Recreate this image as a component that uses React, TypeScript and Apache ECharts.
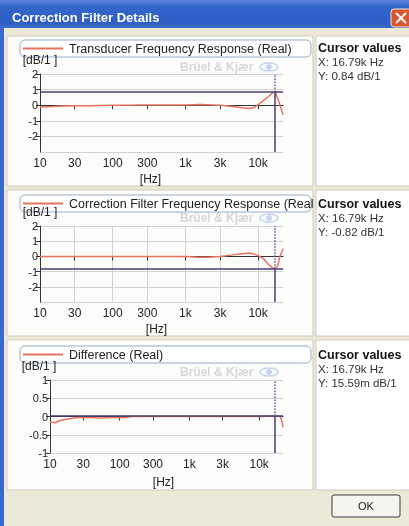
import React, { useEffect, useRef } from "react";
import * as echarts from "echarts";

// ---------- data ----------
const xTickValues = [10, 30, 100, 300, 1000, 3000, 10000];

const transducerFreq = [10, 12, 15, 20, 30, 50, 100, 200, 300, 500, 1000, 1600, 3000, 4500, 6000, 7700, 9000, 11200, 13800, 15900, 16790, 17600, 19000, 20500, 21800, 22000];
const transducerVal = [-0.12, -0.1, -0.08, -0.05, -0.04, -0.03, 0.0, 0.01, 0.02, 0.02, 0.02, 0.04, 0.0, -0.08, -0.17, -0.21, -0.13, 0.21, 0.54, 0.8, 0.84, 0.74, 0.33, -0.15, -0.54, -0.62];

const correctionFreq = [10, 100, 1000, 1500, 2000, 3000, 4500, 6000, 7700, 9500, 11900, 13700, 15500, 16790, 18500, 20000, 21700, 22000];
const correctionVal = [0, 0, 0, -0.05, -0.05, 0, 0.1, 0.18, 0.22, 0.1, -0.15, -0.5, -0.72, -0.82, -0.65, 0, 0.42, 0.5];

const differenceFreq = [10, 11.8, 13.9, 19.4, 27, 40, 52, 80, 117, 150, 300, 1000, 3000, 10000, 16790, 20000, 21000, 22000];
const differenceVal = [-0.15, -0.17, -0.11, -0.055, -0.02, -0.03, -0.04, -0.03, -0.03, 0, 0, 0, 0, 0, 0.0156, 0, -0.1, -0.3];

const seriesNames = [
  "Transducer Frequency Response (Real)",
  "Correction Filter Frequency Response (Real)",
  "Difference (Real)",
];
const legendShown = [
  "Transducer Frequency Response (Real)",
  "Correction Filter Frequency Response (Real",
  "Difference (Real)",
];
const cursorX = [16790, 16790, 16790];
const cursorY = [0.84, -0.82, 0.01559];
const cursorXText = ["X: 16.79k Hz", "X: 16.79k Hz", "X: 16.79k Hz"];
const cursorYText = ["Y: 0.84 dB/1", "Y: -0.82 dB/1", "Y: 15.59m dB/1"];

// ---------- layout ----------
const FONT = "'Liberation Sans', Arial, sans-serif";
const CURVE = "#E8735C";
const CURSOR = "#4a3d74";
const GRIDC = "#d2d2d2";

const grids = [
  { left: 40, top: 74, width: 243, height: 78 },
  { left: 40, top: 226, width: 243, height: 76 },
  { left: 50, top: 380, width: 233, height: 73 },
];
const yRanges = [
  { min: -3, max: 2, interval: 1 },
  { min: -3, max: 2, interval: 1 },
  { min: -1, max: 1, interval: 0.5 },
];
const panelTops = [36, 190, 340];
const panelHeights = [150, 146, 150];
const legendBoxTops = [40, 195, 346];
const cursorTextTops = [48, 204, 355];
const bkY = [67, 218, 372];
const vGrid = [false, true, false];
const hzPad = [22, 10, 6];
const dbPad = [0, 0, 22];

function fmtHz(v: number) {
  return v >= 1000 ? v / 1000 + "k" : String(v);
}

function buildOption() {
  const data = [
    transducerFreq.map((f, i) => [f, transducerVal[i]]),
    correctionFreq.map((f, i) => [f, correctionVal[i]]),
    differenceFreq.map((f, i) => [f, differenceVal[i]]),
  ];

  const graphics: any[] = [
    { type: "rect", shape: { x: 0, y: 0, width: 409, height: 526 }, style: { fill: "#ECE9D8" }, z: -20 },
    {
      type: "rect",
      shape: { x: 0, y: 0, width: 409, height: 28 },
      style: {
        fill: new echarts.graphic.LinearGradient(0, 0, 0, 1, [
          { offset: 0, color: "#5a86dc" },
          { offset: 0.25, color: "#3465c9" },
          { offset: 0.8, color: "#2e5ec4" },
          { offset: 1, color: "#3e6bc8" },
        ]),
      },
      z: -19,
    },
    { type: "rect", shape: { x: 0, y: 28, width: 4, height: 498 }, style: { fill: "#3a68cc" }, z: -19 },
    {
      type: "text",
      style: { text: "Correction Filter Details", x: 12, y: 17, fill: "#ffffff", font: `bold 13px ${FONT}`, verticalAlign: "middle" },
      z: 10,
    },
    { type: "rect", shape: { x: 391, y: 9, width: 22, height: 18, r: 3 }, style: { fill: "#d9572f", stroke: "#f0e0d8", lineWidth: 1 }, z: 10 },
    { type: "line", shape: { x1: 396, y1: 13, x2: 406, y2: 23 }, style: { stroke: "#fff", lineWidth: 2 }, z: 11 },
    { type: "line", shape: { x1: 406, y1: 13, x2: 396, y2: 23 }, style: { stroke: "#fff", lineWidth: 2 }, z: 11 },
    // OK button
    { type: "rect", shape: { x: 332, y: 495, width: 68, height: 22, r: 2 }, style: { fill: "#f5f4ef", stroke: "#3a3a3a", lineWidth: 1 }, z: 10 },
    { type: "text", style: { text: "OK", x: 366, y: 506, align: "center", verticalAlign: "middle", fill: "#222", font: `11px ${FONT}` }, z: 11 },
  ];

  for (let i = 0; i < 3; i++) {
    graphics.push(
      { type: "rect", shape: { x: 7, y: panelTops[i], width: 306, height: panelHeights[i] }, style: { fill: "#fcfcfa", stroke: "#cfcbbb", lineWidth: 1 }, z: -10 },
      { type: "rect", shape: { x: 316, y: panelTops[i], width: 96, height: panelHeights[i] }, style: { fill: "#ffffff", stroke: "#cfcbbb", lineWidth: 1 }, z: -10 },
      { type: "rect", shape: { x: 20, y: legendBoxTops[i], width: 291, height: 17, r: 5 }, style: { fill: "#ffffff", stroke: "#98acc8", lineWidth: 1 }, z: -5 },
      { type: "text", style: { text: "Cursor values", x: 318, y: cursorTextTops[i], fill: "#111", font: `bold 12.5px ${FONT}`, verticalAlign: "middle" }, z: 10 },
      { type: "text", style: { text: cursorXText[i], x: 318, y: cursorTextTops[i] + 14, fill: "#333", font: `11.5px ${FONT}`, verticalAlign: "middle" }, z: 10 },
      { type: "text", style: { text: cursorYText[i], x: 318, y: cursorTextTops[i] + 28, fill: "#333", font: `11.5px ${FONT}`, verticalAlign: "middle" }, z: 10 },
      { type: "text", style: { text: "Brüel & Kjær", x: 180, y: bkY[i], fill: "#d6d6de", font: `bold 12px ${FONT}`, verticalAlign: "middle" }, z: 1 },
      { type: "ellipse", shape: { cx: 269, cy: bkY[i], rx: 9, ry: 4 }, style: { fill: "none", stroke: "#c4d4ee", lineWidth: 1.5 }, z: 1 },
      { type: "circle", shape: { cx: 269, cy: bkY[i], r: 3 }, style: { fill: "#c4d4ee" }, z: 1 }
    );
  }

  const xAxes = grids.map((_, i) => ({
    type: "log",
    logBase: 10,
    gridIndex: i,
    min: 10,
    max: 22000,
    name: "[Hz]",
    nameLocation: "middle",
    nameGap: i === 2 ? 23 : 21,
    nameTextStyle: { color: "#222", fontSize: 12, fontFamily: FONT, padding: [0, hzPad[i], 0, 0] },
    axisLine: { show: true, lineStyle: { color: "#333", width: 1 } },
    axisTick: { show: true, length: 4, customValues: xTickValues, lineStyle: { color: "#333" } },
    axisLabel: { customValues: xTickValues, formatter: (v: number) => fmtHz(v), color: "#222", fontSize: 12, fontFamily: FONT, margin: 5 },
    splitLine: { show: vGrid[i], lineStyle: { color: GRIDC, width: 1 } },
    minorTick: { show: false },
    minorSplitLine: { show: false },
  }));

  const yAxes = grids.map((_, i) => ({
    type: "value",
    gridIndex: i,
    min: yRanges[i].min,
    max: yRanges[i].max,
    interval: yRanges[i].interval,
    name: "[dB/1 ]",
    nameLocation: "end",
    nameGap: 9,
    nameTextStyle: { color: "#222", fontSize: 12, lineHeight: 10, fontFamily: FONT, padding: [0, dbPad[i], 0, 0] },
    axisLine: { show: true, lineStyle: { color: "#333", width: 1 } },
    axisTick: { show: true, length: 4, lineStyle: { color: "#333" } },
    axisLabel: {
      color: "#222",
      fontSize: 11,
      lineHeight: 10,
      fontFamily: FONT,
      margin: 2,
      showMinLabel: i === 2,
      formatter: (v: number) => String(v),
    },
    splitLine: { show: true, lineStyle: { color: GRIDC, width: 1 } },
  }));

  const series = grids.map((_, i) => ({
    name: seriesNames[i],
    type: "line",
    xAxisIndex: i,
    yAxisIndex: i,
    data: data[i],
    showSymbol: false,
    symbol: "none",
    smooth: false,
    lineStyle: { color: CURVE, width: 1.5 },
    itemStyle: { color: CURVE },
    markLine: {
      silent: true,
      symbol: ["none", "none"],
      label: { show: false },
      animation: false,
      lineStyle: { color: CURSOR, width: 1.5, type: "solid" },
      data: [
        { yAxis: cursorY[i] },
        [{ coord: [cursorX[i], yRanges[i].min] }, { coord: [cursorX[i], cursorY[i]] }],
        [
          { coord: [cursorX[i], cursorY[i]], lineStyle: { type: "dotted", color: "#6a4f92", width: 1.5 } },
          { coord: [cursorX[i], yRanges[i].max] },
        ],
      ],
    },
  }));

  const legends = grids.map((_, i) => ({
    data: [seriesNames[i]],
    left: 23,
    top: legendBoxTops[i] + 2,
    padding: 0,
    itemWidth: 40,
    itemHeight: 2,
    icon: "rect",
    selectedMode: false,
    formatter: () => legendShown[i],
    textStyle: { color: "#222", fontSize: 12.5, fontFamily: FONT, padding: [0, 0, 0, 1] },
  }));

  return {
    animation: false,
    textStyle: { fontFamily: FONT },
    grid: grids,
    xAxis: xAxes,
    yAxis: yAxes,
    legend: legends,
    series,
    graphic: { elements: graphics },
  };
}

export default function App() {
  const ref = useRef<HTMLDivElement>(null);
  useEffect(() => {
    const chart = echarts.init(ref.current!, null, { renderer: "svg", width: 409, height: 526 });
    chart.setOption(buildOption() as any);
    return () => chart.dispose();
  }, []);
  return <div ref={ref} style={{ position: "fixed", left: 0, top: 0, width: 409, height: 526 }} />;
}
